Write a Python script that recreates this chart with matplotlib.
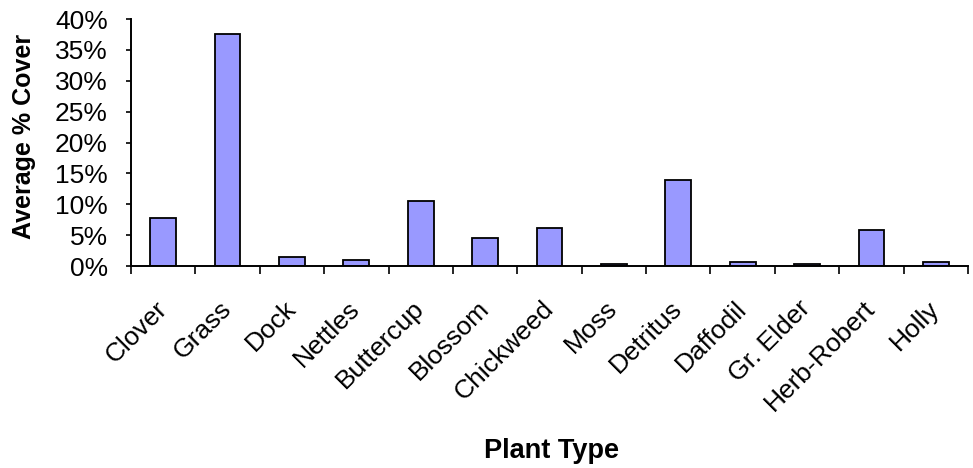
import numpy as np
import matplotlib.pyplot as plt
from matplotlib.ticker import FuncFormatter, FixedLocator
from matplotlib.transforms import ScaledTranslation

plt.rcParams['font.family'] = ['Liberation Sans', 'DejaVu Sans']

# dados
plantas = ['Clover', 'Grass', 'Dock', 'Nettles', 'Buttercup', 'Blossom',
           'Chickweed', 'Moss', 'Detritus', 'Daffodil', 'Gr. Elder',
           'Herb-Robert', 'Holly']
cobertura = [7.8, 37.5, 1.4, 1.0, 10.6, 4.5, 6.2, 0.4, 13.9, 0.7, 0.4, 5.8, 0.7]

fig = plt.figure(figsize=(9.73, 4.68), dpi=100)
ax = fig.add_axes([0.1346, 0.4316, 0.8603, 0.5278])

x = np.arange(len(plantas))
ax.bar(x, cobertura, width=0.4, color='#9999ff', edgecolor='black', linewidth=1.3)

ax.set_xlim(-0.5, len(plantas) - 0.5)
ax.set_ylim(0, 40)
ax.set_yticks(np.arange(0, 41, 5))
ax.yaxis.set_major_formatter(FuncFormatter(lambda v, p: f'{v:.0f}%'))

# rotulos no centro, marcas entre as categorias
ax.set_xticks(x)
ax.set_xticklabels(plantas, rotation=45, ha='right', va='center', rotation_mode='anchor')
deslocamento = ScaledTranslation(6 / 100, 0, fig.dpi_scale_trans)
for lbl in ax.get_xticklabels():
    lbl.set_transform(lbl.get_transform() + deslocamento)
ax.xaxis.set_minor_locator(FixedLocator(np.arange(-0.5, len(plantas), 1)))
ax.tick_params(axis='x', which='major', length=0, pad=28, labelsize=19)
ax.tick_params(axis='x', which='minor', length=6, width=1.2, direction='out')
ax.tick_params(axis='y', length=3.6, width=1.2, direction='out', labelsize=19, pad=13)

for s in ['top', 'right']:
    ax.spines[s].set_visible(False)
ax.spines['left'].set_linewidth(1.4)
ax.spines['bottom'].set_linewidth(1.4)

fig.text(24 / 973, 1 - 136 / 468, 'Average % Cover', fontsize=18, fontweight='bold',
         rotation=90, ha='center', va='center')
fig.text(552 / 973, 1 - 458 / 468, 'Plant Type', fontsize=19.5, fontweight='bold',
         ha='center', va='baseline')

fig.savefig('out.png', dpi=100)
